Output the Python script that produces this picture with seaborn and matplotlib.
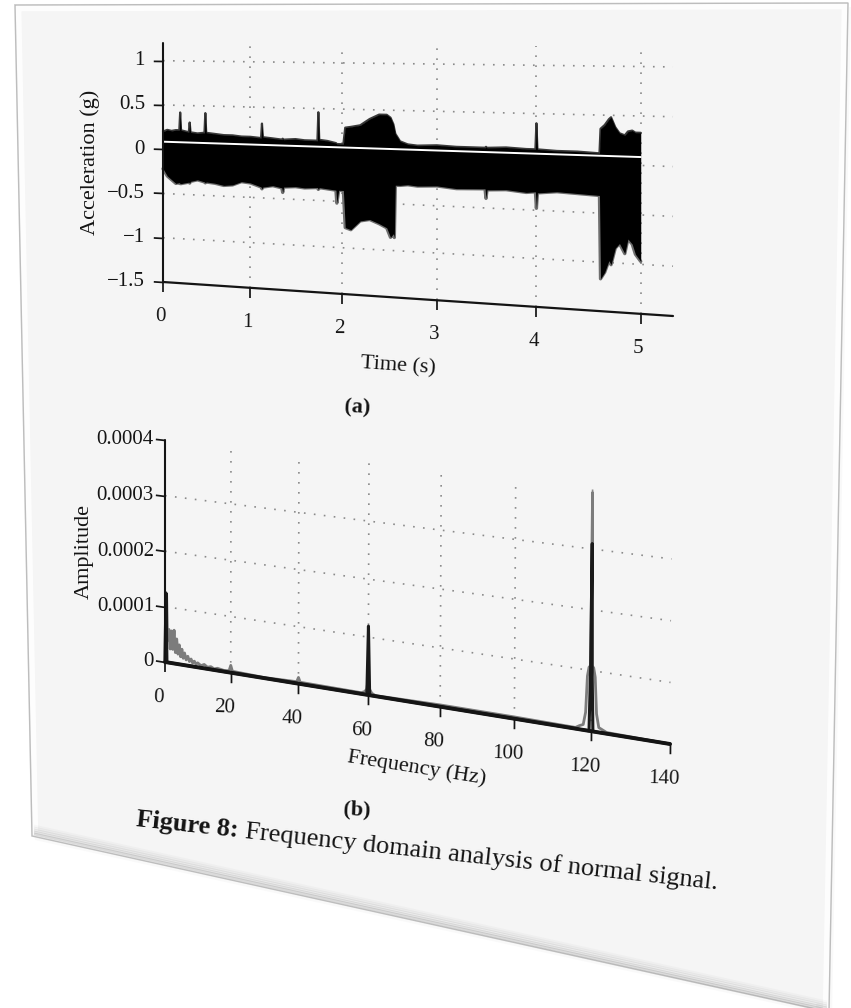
import numpy as np
import matplotlib
matplotlib.use("Agg")
import matplotlib.pyplot as plt
import seaborn as sns
from matplotlib.transforms import Transform
from matplotlib.patches import Polygon
import mpl_toolkits.axisartist.floating_axes as floating_axes
from mpl_toolkits.axisartist.grid_finder import FixedLocator, DictFormatter

# ---------------------------------------------------------------- data
# (a) acceleration record: upper / lower envelope of the vibration band
time_s = [0.00, 0.05, 0.10, 0.15, 0.19, 0.20, 0.21, 0.30, 0.31, 0.32, 0.40,
          0.48, 0.49, 0.50, 0.60, 0.70, 0.80, 0.90, 1.00, 1.12, 1.13, 1.14,
          1.25, 1.35, 1.36, 1.37, 1.50, 1.60, 1.74, 1.75, 1.76, 1.85, 1.94,
          1.95, 1.97, 2.02, 2.04, 2.10, 2.20, 2.30, 2.40, 2.48, 2.52, 2.55,
          2.56, 2.57, 2.62, 2.70, 2.80, 3.00, 3.20, 3.49, 3.50, 3.51, 3.70,
          3.90, 3.99, 4.00, 4.01, 4.20, 4.40, 4.60, 4.61, 4.62, 4.66, 4.70,
          4.72, 4.76, 4.80, 4.85, 4.88, 4.92, 4.95, 5.00]
accel_upper = [0.20, 0.22, 0.21, 0.22, 0.22, 0.42, 0.22, 0.20, 0.31, 0.20, 0.19,
               0.20, 0.42, 0.20, 0.19, 0.18, 0.18, 0.17, 0.17, 0.16, 0.32, 0.17,
               0.16, 0.15, 0.16, 0.15, 0.16, 0.15, 0.15, 0.46, 0.16, 0.15, 0.13,
               0.12, 0.12, 0.12, 0.30, 0.31, 0.33, 0.40, 0.45, 0.45, 0.42, 0.35,
               0.30, 0.25, 0.17, 0.14, 0.13, 0.14, 0.13, 0.13, 0.14, 0.13, 0.14,
               0.13, 0.13, 0.40, 0.13, 0.12, 0.12, 0.11, 0.11, 0.36, 0.40, 0.46,
               0.48, 0.38, 0.32, 0.30, 0.34, 0.35, 0.33, 0.33]
accel_lower = [-0.22, -0.30, -0.34, -0.38, -0.37, -0.38, -0.38, -0.36, -0.37, -0.35, -0.33,
               -0.35, -0.36, -0.35, -0.36, -0.38, -0.37, -0.33, -0.34, -0.38, -0.40, -0.38,
               -0.36, -0.38, -0.43, -0.37, -0.36, -0.37, -0.36, -0.38, -0.36, -0.37, -0.38,
               -0.52, -0.38, -0.38, -0.78, -0.80, -0.70, -0.68, -0.72, -0.76, -0.86, -0.82,
               -0.86, -0.30, -0.30, -0.29, -0.30, -0.29, -0.31, -0.30, -0.40, -0.31, -0.30,
               -0.32, -0.31, -0.48, -0.32, -0.30, -0.31, -0.32, -0.32, -1.17, -1.10, -0.98,
               -1.02, -0.85, -0.80, -0.90, -0.75, -0.80, -0.90, -0.97]
mean_level = 0.085

time_ticks = [0, 1, 2, 3, 4, 5]
time_tick_labels = ["0", "1", "2", "3", "4", "5"]
accel_ticks = [-1.5, -1.0, -0.5, 0.0, 0.5, 1.0]
accel_tick_labels = ["\u22121.5", "\u22121", "\u22120.5", "0", "0.5", "1"]

# (b) amplitude spectrum: light trace and dark trace
freq_light = [0.0, 0.2, 0.5, 0.8, 1.2, 1.6, 2.0, 2.4, 2.8, 3.2, 3.6, 4.0, 4.4,
              4.8, 5.2, 5.6, 6.0, 6.5, 7.0, 7.5, 8.0, 8.5, 9.0, 9.5, 10.0, 11.0,
              12.0, 13.0, 14.0, 15.0, 16.0, 18.0, 19.5, 20.0, 20.5, 30.0, 39.5,
              40.0, 40.5, 58.0, 59.0, 59.6, 60.0, 60.4, 61.0, 62.0, 80.0, 100.0,
              116.0, 117.0, 118.0, 118.6, 119.0, 119.4, 119.8, 120.0, 120.2,
              120.6, 121.0, 121.4, 122.0, 123.0, 124.0, 140.0]
amp_light = [0.0, 0.000118, 0.000122, 0.00004, 0.00006, 0.000025, 0.000058,
             0.000025, 0.00006, 0.00002, 0.000045, 0.000018, 0.000035, 0.000014,
             0.000028, 0.000012, 0.000022, 0.00001, 0.000017, 0.000008, 0.000013,
             0.000006, 0.00001, 0.000005, 0.000008, 0.000004, 0.000007, 0.000003,
             0.000005, 0.000002, 0.000004, 0.000002, 0.000003, 0.000013, 0.000003,
             0.000001, 0.000003, 0.000011, 0.000003, 0.000002, 0.000005, 0.00001,
             0.00003, 0.00001, 0.000004, 0.000001, 0.000003, 0.000003, 0.000002,
             0.000006, 0.000009, 0.00003, 0.00009, 0.000105, 0.000108, 0.000393,
             0.000108, 0.000105, 0.00009, 0.00003, 0.000008, 0.000005, 0.000002, 0.0]
freq_dark = [0.0, 0.3, 0.6, 59.6, 60.0, 60.4, 119.5, 119.8, 120.0, 120.2, 120.5, 140.0]
amp_dark = [0.0, 0.000125, 0.0, 0.0, 0.000119, 0.0, 0.0, 0.0001, 0.000309, 0.0001, 0.0, 0.0]

freq_ticks = [0, 20, 40, 60, 80, 100, 120, 140]
freq_tick_labels = [str(v) for v in freq_ticks]
amp_ticks = [0.0, 0.0001, 0.0002, 0.0003, 0.0004]
amp_tick_labels = ["0", "0.0001", "0.0002", "0.0003", "0.0004"]

# ---------------------------------------------------------------- style
W, H = 851, 1008
sns.set_theme(style="white")
plt.rcParams["font.family"] = ["Liberation Serif", "DejaVu Serif"]
INK = "#141414"


class PlaneProjection(Transform):
    """Projective (homography) mapping of the chart plane onto the tilted sheet."""
    input_dims = 2
    output_dims = 2
    is_separable = False
    has_inverse = True

    def __init__(self, matrix):
        super().__init__()
        self._m = np.asarray(matrix, float)

    def transform_non_affine(self, values):
        v = np.asarray(values, float).reshape(-1, 2)
        p = np.column_stack([v, np.ones(len(v))]) @ self._m.T
        return p[:, :2] / p[:, 2:3]

    def inverted(self):
        return PlaneProjection(np.linalg.inv(self._m))


def sheet_projection(extremes, corners):
    """Homography sending the data box `extremes` onto four sheet corners
    (given in pixels, order: bottom-left, bottom-right, top-right, top-left)."""
    x0, x1, y0, y1 = extremes
    unit = [(0, 0), (1, 0), (1, 1), (0, 1)]
    dst = [(u, -v) for u, v in corners]
    A, b = [], []
    for (x, y), (u, v) in zip(unit, dst):
        A.append([x, y, 1, 0, 0, 0, -u * x, -u * y]); b.append(u)
        A.append([0, 0, 0, x, y, 1, -v * x, -v * y]); b.append(v)
    h = np.append(np.linalg.solve(np.array(A, float), np.array(b, float)), 1).reshape(3, 3)
    norm = np.array([[1 / (x1 - x0), 0, -x0 / (x1 - x0)],
                     [0, 1 / (y1 - y0), -y0 / (y1 - y0)],
                     [0, 0, 1]])
    return PlaneProjection(h @ norm)


def tilted_axes(fig, extremes, corners, xt, xtl, yt, ytl, xlabel, ylabel,
                left_lw, bottom_lw, xtick_rot, xtick_pad, ytick_pad, xlabel_pad, ylabel_pad):
    tr = sheet_projection(extremes, corners)
    helper = floating_axes.GridHelperCurveLinear(
        tr, extremes=extremes,
        grid_locator1=FixedLocator(xt), tick_formatter1=DictFormatter(dict(zip(xt, xtl))),
        grid_locator2=FixedLocator(yt), tick_formatter2=DictFormatter(dict(zip(yt, ytl))))
    ax = fig.add_axes([0, 0, 1, 1], axes_class=floating_axes.FloatingAxes,
                      grid_helper=helper)
    ax.set_aspect("auto")
    ax.set_xlim(0, W)
    ax.set_ylim(-H, 0)
    ax.patch.set_facecolor("none")
    ax.axis["top"].set_visible(False)
    ax.axis["right"].set_visible(False)
    for side, lw in (("left", left_lw), ("bottom", bottom_lw)):
        art = ax.axis[side]
        art.line.set_linewidth(lw)
        art.line.set_color(INK)
        art.major_ticks.set_tick_out(True)
        art.major_ticks.set_ticksize(7)
        art.major_ticks.set_linewidth(1.3)
        art.major_ticks.set_color(INK)
        art.major_ticklabels.set_fontsize(15)
        art.major_ticklabels.set_color(INK)
        art.label.set_fontsize(16)
        art.label.set_color(INK)
    ax.axis["bottom"].major_ticklabels.set_rotation(xtick_rot)
    ax.axis["bottom"].major_ticklabels.set_pad(xtick_pad)
    ax.axis["left"].major_ticklabels.set_pad(ytick_pad)
    ax.axis["bottom"].label.set_text(xlabel)
    ax.axis["left"].label.set_text(ylabel)
    ax.axis["bottom"].label.set_visible(bool(xlabel))
    ax.axis["left"].label.set_visible(True)
    ax.axis["bottom"].label.set_pad(xlabel_pad)
    ax.axis["left"].label.set_pad(ylabel_pad)
    ax.grid(True, color="#8a8a8a", linestyle=(0, (1, 5)), linewidth=1.2)
    aux = ax.get_aux_axes(tr)
    return ax, aux


fig = plt.figure(figsize=(W / 100, H / 100), dpi=100)
fig.patch.set_facecolor("white")

# ---------------------------------------------------------------- tilted sheet
bg = fig.add_axes([0, 0, 1, 1])
bg.set_xlim(0, W)
bg.set_ylim(H, 0)
bg.axis("off")
sheet = [(15, 5), (848, 3), (829, 1012), (32, 836)]
bg.add_patch(Polygon([(x + 3, y + 4) for x, y in sheet], closed=True,
                     fc="#bfbfbf", ec="none", alpha=0.6))
bg.add_patch(Polygon(sheet, closed=True, fc="#f5f5f5", ec="#c4c4c4", lw=1.2))
bg.add_patch(Polygon(sheet, closed=True, fc="none", ec="white", lw=9, alpha=0.85))
bg.add_patch(Polygon(sheet, closed=True, fc="none", ec="#bdbdbd", lw=1.0))
for k, a in enumerate([0.30, 0.22, 0.15, 0.09, 0.05]):
    bg.plot([32 + 2, 829 - 2], [836 - 2 - 2 * k, 1012 - 2 - 2 * k], color="#8a8a8a",
            alpha=a, lw=2, solid_capstyle="butt")

# ---------------------------------------------------------------- (a) time record
ax_a, aux_a = tilted_axes(
    fig, (0, 5.3, -1.5, 1.2),
    [(163, 282), (673, 316), (673, 47), (163, 43)],
    time_ticks, time_tick_labels, accel_ticks, accel_tick_labels,
    "Time (s)", "Acceleration (g)",
    left_lw=1.5, bottom_lw=1.6, xtick_rot=3.0, xtick_pad=11, ytick_pad=6,
    xlabel_pad=14, ylabel_pad=5)
sns.lineplot(x=time_s, y=accel_lower, ax=aux_a, color="#6e6e6e", linewidth=2.4,
             estimator=None, sort=False, zorder=2.1)
sns.lineplot(x=time_s, y=accel_upper, ax=aux_a, color="#3a3a3a", linewidth=1.6,
             estimator=None, sort=False, zorder=2.1)
aux_a.fill_between(time_s, accel_lower, accel_upper, color="black", lw=0, zorder=2.2)
sns.lineplot(x=[time_s[0], time_s[-1]], y=[mean_level, mean_level], ax=aux_a,
             color="white", linewidth=1.4, estimator=None, zorder=2.3)

# ---------------------------------------------------------------- (b) spectrum
ax_b, aux_b = tilted_axes(
    fig, (0, 140, 0, 0.0004),
    [(165, 662), (670, 744), (672, 497), (165, 440)],
    freq_ticks, freq_tick_labels, amp_ticks, amp_tick_labels,
    "", "Amplitude",
    left_lw=1.5, bottom_lw=2.8, xtick_rot=7.5, xtick_pad=12, ytick_pad=1,
    xlabel_pad=10, ylabel_pad=2)
sns.lineplot(x=freq_light, y=amp_light, ax=aux_b, color="#7c7c7c", linewidth=2.0,
             estimator=None, sort=False, zorder=2.1)
sns.lineplot(x=freq_dark, y=amp_dark, ax=aux_b, color="#1a1a1a", linewidth=2.2,
             estimator=None, sort=False, zorder=2.2)
# the frequency axis title follows the slant of the sheet
bg.text(417, 768, "Frequency (Hz)", fontsize=16, color=INK, ha="center", va="center",
        rotation=-9, rotation_mode="anchor")

for aux in (aux_a, aux_b):
    leg = aux.get_legend()
    if leg is not None:
        leg.remove()

# ---------------------------------------------------------------- panel tags and caption
bg.text(357, 408, "(a)", fontsize=16, fontweight="bold", color=INK,
        ha="center", va="center", rotation=-2)
bg.text(357, 810, "(b)", fontsize=16, fontweight="bold", color=INK,
        ha="center", va="center", rotation=-2)

cap_angle = -6.2
cx, cy = 136, 826
head = bg.text(cx, cy, "Figure 8:", fontsize=19, fontweight="bold", color=INK,
               ha="left", va="baseline")
renderer = fig.canvas.get_renderer()
head_w = head.get_window_extent(renderer).width
head.set_rotation(cap_angle)
head.set_rotation_mode("anchor")
step = head_w + 6
ang = np.deg2rad(-cap_angle)
bg.text(cx + step * np.cos(ang), cy + step * np.sin(ang),
        "Frequency domain analysis of normal signal.", fontsize=19, color=INK,
        ha="left", va="baseline", rotation=cap_angle, rotation_mode="anchor")

fig.savefig("out.png", dpi=100, facecolor="white")
